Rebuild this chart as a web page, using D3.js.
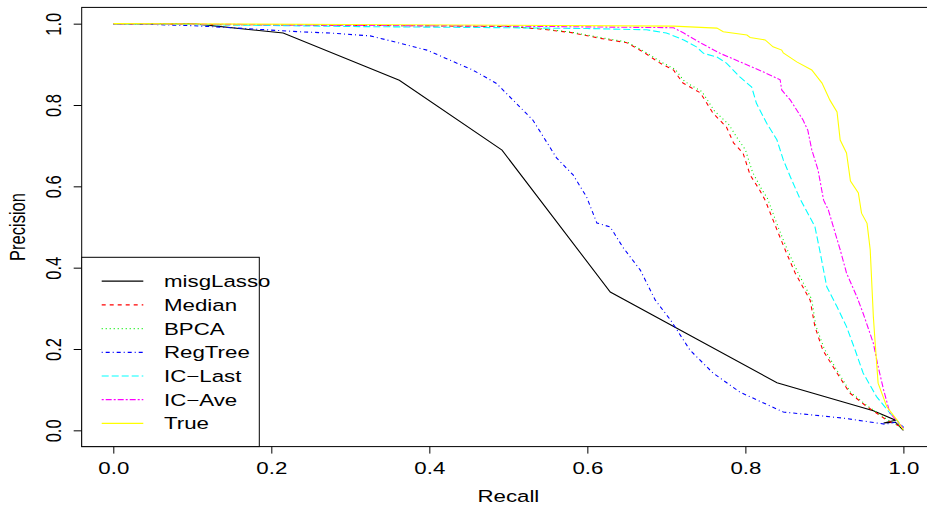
<!DOCTYPE html>
<html>
<head>
<meta charset="utf-8">
<script src="https://cdn.jsdelivr.net/npm/d3@7"></script>
<style>
body { margin: 0; background: #fff; }
svg { display: block; font-family: "Liberation Sans", Arial, sans-serif; }
</style>
</head>
<body>
<script>
(function(){

//series names, in legend order
var seriesNames = ["misgLasso", "Median", "BPCA", "RegTree", "IC-Last", "IC-Ave", "True"];

//[recall, precision]
var misgLasso = [[0,1],[0.1,1],[0.215,0.977],[0.362,0.861],[0.492,0.689],[0.629,0.34],[0.84,0.117],[0.962,0.048],[0.99,0.025],[0.975,0.018],[0.99,0.02],[1,0]];
var median = [[0,1],[0.1,0.998],[0.3,0.996],[0.5,0.993],[0.54,0.987],[0.58,0.978],[0.616,0.964],[0.65,0.953],[0.671,0.93],[0.692,0.903],[0.709,0.886],[0.721,0.854],[0.743,0.83],[0.759,0.78],[0.776,0.746],[0.785,0.707],[0.797,0.682],[0.806,0.628],[0.818,0.591],[0.825,0.566],[0.84,0.493],[0.852,0.436],[0.863,0.387],[0.882,0.32],[0.888,0.255],[0.898,0.197],[0.916,0.141],[0.932,0.092],[0.954,0.058],[0.979,0.025],[1,0.006]];
var bpca = [[0,1],[0.1,0.998],[0.3,0.996],[0.5,0.993],[0.54,0.988],[0.58,0.979],[0.616,0.966],[0.65,0.955],[0.672,0.932],[0.694,0.905],[0.711,0.888],[0.723,0.858],[0.745,0.833],[0.761,0.785],[0.779,0.752],[0.79,0.718],[0.8,0.69],[0.809,0.635],[0.82,0.595],[0.828,0.57],[0.842,0.497],[0.854,0.44],[0.866,0.39],[0.884,0.322],[0.889,0.258],[0.9,0.2],[0.917,0.144],[0.933,0.094],[0.955,0.059],[0.98,0.026],[1,0.006]];
var regTree = [[0,1],[0.05,0.998],[0.1,0.995],[0.15,0.99],[0.236,0.98],[0.274,0.977],[0.325,0.97],[0.363,0.952],[0.397,0.935],[0.43,0.907],[0.455,0.886],[0.485,0.853],[0.531,0.763],[0.561,0.67],[0.582,0.628],[0.599,0.574],[0.612,0.51],[0.629,0.5],[0.645,0.45],[0.667,0.394],[0.686,0.32],[0.705,0.272],[0.73,0.197],[0.759,0.141],[0.793,0.094],[0.848,0.045],[0.924,0.03],[0.977,0.015],[0.99,0.02],[1,0.008]];
var icLast = [[0,1],[0.1,0.998],[0.3,0.993],[0.5,0.99],[0.6,0.988],[0.675,0.985],[0.7,0.977],[0.722,0.96],[0.738,0.943],[0.747,0.927],[0.764,0.918],[0.776,0.903],[0.793,0.869],[0.808,0.844],[0.814,0.804],[0.827,0.755],[0.84,0.714],[0.848,0.665],[0.857,0.623],[0.869,0.57],[0.888,0.501],[0.894,0.444],[0.903,0.353],[0.916,0.304],[0.928,0.255],[0.939,0.197],[0.949,0.141],[0.966,0.083],[0.983,0.042],[1,0.008]];
var icAve = [[0,1],[0.1,0.999],[0.3,0.996],[0.5,0.994],[0.709,0.99],[0.722,0.977],[0.743,0.953],[0.768,0.927],[0.797,0.903],[0.823,0.881],[0.844,0.862],[0.846,0.837],[0.857,0.812],[0.873,0.763],[0.879,0.738],[0.884,0.69],[0.892,0.64],[0.899,0.566],[0.905,0.542],[0.92,0.444],[0.928,0.387],[0.941,0.329],[0.949,0.288],[0.962,0.214],[0.968,0.157],[0.975,0.099],[0.983,0.042],[1,0.006]];
var trueCurve = [[0,1],[0.3,0.998],[0.5,0.996],[0.709,0.994],[0.764,0.989],[0.772,0.98],[0.802,0.972],[0.806,0.966],[0.825,0.96],[0.835,0.943],[0.846,0.935],[0.848,0.928],[0.865,0.906],[0.884,0.886],[0.897,0.854],[0.907,0.812],[0.916,0.783],[0.92,0.714],[0.928,0.682],[0.933,0.613],[0.943,0.584],[0.947,0.534],[0.954,0.509],[0.958,0.444],[0.961,0.32],[0.962,0.279],[0.964,0.222],[0.968,0.116],[0.979,0.058],[0.992,0.025],[1,0.001]];

var xTicks = [0, 0.2, 0.4, 0.6, 0.8, 1.0];
var yTicks = [0, 0.2, 0.4, 0.6, 0.8, 1.0];

var allSeries = [misgLasso, median, bpca, regTree, icLast, icAve, trueCurve];

//R default palette and lty 1..6 (7 wraps to solid)
var colors = ["#000000", "#ff0000", "#00ee00", "#0000ff", "#00ffff", "#ff00ff", "#ffff00"];
var dashes = [null, "4,4", "1,3", "1,3,4,3", "7,3", "2,2,6,2", null];

var width = 927, height = 505;
var stretch = 1.35; //picture is widened horizontally
var fs = 16.5;

var svg = d3.select("body").append("svg")
    .attr("width", width)
    .attr("height", height);

//plot region with R's 4% padding
var x = d3.scaleLinear().domain([-0.04, 1.04]).range([81.7, 935]);
var y = d3.scaleLinear().domain([-0.04, 1.04]).range([446.6, 7.4]);

svg.append("clipPath").attr("id", "plotClip")
    .append("rect")
    .attr("x", x(-0.04)).attr("y", y(1.04))
    .attr("width", x(1.04) - x(-0.04))
    .attr("height", y(-0.04) - y(1.04));

var line = d3.line()
    .x(function(d){ return x(d[0]); })
    .y(function(d){ return y(d[1]); });

var lines = svg.append("g").attr("clip-path", "url(#plotClip)");
allSeries.forEach(function(s, i){
    lines.append("path")
        .attr("d", line(s))
        .attr("fill", "none")
        .attr("stroke", colors[i])
        .attr("stroke-width", 1.1)
        .attr("stroke-dasharray", dashes[i]);
});

//x axis
var xAxis = svg.append("g")
    .attr("transform", "translate(0," + y(-0.04) + ")")
    .call(d3.axisBottom(x).tickValues(xTicks).tickSize(7).tickFormat(d3.format(".1f")));
xAxis.select(".domain").remove();
xAxis.selectAll("line").attr("stroke", "#000");
xAxis.selectAll("text")
    .attr("y", 27).attr("dy", null)
    .attr("fill", "#000")
    .style("font-size", fs + "px")
    .attr("transform", "scale(" + stretch + ",1)");

//y axis
var yAxis = svg.append("g")
    .attr("transform", "translate(" + x(-0.04) + ",0)")
    .call(d3.axisLeft(y).tickValues(yTicks).tickSize(8).tickFormat(d3.format(".1f")));
yAxis.select(".domain").remove();
yAxis.selectAll("line").attr("stroke", "#000");
yAxis.selectAll("text")
    .attr("x", 0).attr("dy", null)
    .attr("text-anchor", "middle")
    .attr("fill", "#000")
    .style("font-size", fs + "px")
    .attr("transform", "translate(-20.3,0) scale(" + stretch + ",1) rotate(-90)");

//box
svg.append("rect")
    .attr("x", x(-0.04)).attr("y", y(1.04))
    .attr("width", x(1.04) - x(-0.04))
    .attr("height", y(-0.04) - y(1.04))
    .attr("fill", "none")
    .attr("stroke", "#000")
    .attr("stroke-width", 1);

//axis titles
svg.append("text")
    .attr("text-anchor", "middle")
    .style("font-size", fs + "px")
    .attr("transform", "translate(" + x(0.5) + ",502) scale(" + stretch + ",1)")
    .text("Recall");

svg.append("text")
    .attr("text-anchor", "middle")
    .style("font-size", fs + "px")
    .attr("transform", "translate(25," + y(0.5) + ") scale(" + stretch + ",1) rotate(-90)")
    .text("Precision");

//legend
var legX = x(-0.04), legTop = 257.3, legRight = 259.3, rowStart = 281.2, rowStep = 23.7;
svg.append("rect")
    .attr("x", legX).attr("y", legTop)
    .attr("width", legRight - legX)
    .attr("height", y(-0.04) - legTop)
    .attr("fill", "#fff")
    .attr("stroke", "#000");

var legend = svg.selectAll(".legendRow")
    .data(seriesNames)
    .enter()
    .append("g")
    .attr("class", "legendRow")
    .attr("transform", function(d, i){ return "translate(0," + (rowStart + i * rowStep) + ")"; });

legend.append("line")
    .attr("x1", 101.7).attr("x2", 143.3)
    .attr("stroke", function(d){ return colors[seriesNames.indexOf(d)]; })
    .attr("stroke-width", 1.2)
    .attr("stroke-dasharray", function(d){ return dashes[seriesNames.indexOf(d)]; });

legend.append("text")
    .attr("transform", "translate(164,0) scale(" + stretch + ",1)")
    .attr("dy", "0.36em")
    .style("font-size", fs + "px")
    .text(function(d){ return d.replace("-", "\u2212"); });

})();
</script>
</body>
</html>
